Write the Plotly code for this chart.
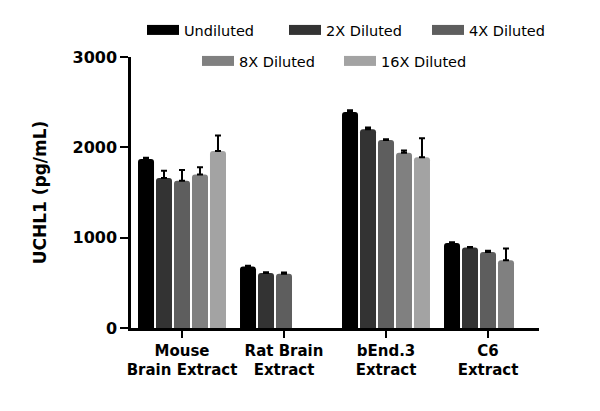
import plotly.graph_objects as go

categories = ["Mouse<br>Brain Extract", "Rat Brain<br>Extract", "bEnd.3<br>Extract", "C6<br>Extract"]
series_names = ["Undiluted", "2X Diluted", "4X Diluted", "8X Diluted", "16X Diluted"]
colors = ["#000000", "#333333", "#5e5e5e", "#808080", "#a3a3a3"]

undiluted = [1870, 680, 2390, 940]
undiluted_err = [15, 10, 20, 10]
diluted_2x = [1660, 610, 2200, 890]
diluted_2x_err = [80, 8, 20, 8]
diluted_4x = [1630, 600, 2080, 840]
diluted_4x_err = [120, 15, 10, 15]
diluted_8x = [1700, None, 1940, 750]
diluted_8x_err = [80, None, 25, 130]
diluted_16x = [1960, None, 1890, None]
diluted_16x_err = [170, None, 210, None]

values = [undiluted, diluted_2x, diluted_4x, diluted_8x, diluted_16x]
errors = [undiluted_err, diluted_2x_err, diluted_4x_err, diluted_8x_err, diluted_16x_err]

# legend symbol left edges (px) and row centres (px)
legend_x = [147, 289, 432, 202, 344]
legend_y = [30, 30, 30, 61, 61]

fig = go.Figure()
for name, col, v, e in zip(series_names, colors, values, errors):
    fig.add_trace(go.Bar(
        x=categories, y=v, name=name, showlegend=False,
        marker=dict(color=col, line=dict(width=0), cornerradius=3),
        error_y=dict(type="data", array=e, arrayminus=[0] * len(e), symmetric=False,
                     color="black", thickness=2, width=3),
    ))

legend_names = ["legend", "legend2", "legend3", "legend4", "legend5"]
for name, col, lg in zip(series_names, colors, legend_names):
    fig.add_trace(go.Scatter(
        x=[None], y=[None], mode="lines", name=name,
        line=dict(color=col, width=11),
        legend=lg,
    ))

legend_layouts = {}
for lg, lx, ly in zip(legend_names, legend_x, legend_y):
    legend_layouts[lg] = dict(
        orientation="h", font=dict(family="DejaVu Sans", size=14.5, color="black"),
        xref="container", yref="container", yanchor="middle", xanchor="left",
        x=(lx - 5) / 600, y=1 - ly / 411, bgcolor="rgba(0,0,0,0)", itemwidth=32,
    )

fig.update_layout(
    width=600, height=411,
    margin=dict(l=131, r=61, t=57, b=83, autoexpand=False),
    paper_bgcolor="white", plot_bgcolor="white",
    barmode="group", bargap=0.118, bargroupgap=0.11,
    font=dict(family="DejaVu Sans", color="black"),
    **legend_layouts,
    xaxis=dict(range=[-0.5, 3.5], showline=True, linecolor="black", linewidth=2.5,
               ticks="outside", ticklen=7, tickwidth=2, tickcolor="black",
               tickfont=dict(family="DejaVu Sans", size=15, color="black", weight="bold"),
               showgrid=False, zeroline=False, fixedrange=True),
    yaxis=dict(range=[0, 3000], tickvals=[0, 1000, 2000, 3000],
               showline=True, linecolor="black", linewidth=2.5,
               ticks="outside", ticklen=8, tickwidth=2, tickcolor="black",
               tickfont=dict(family="DejaVu Sans", size=16, color="black", weight="bold"),
               title=dict(text="UCHL1 (pg/mL)", standoff=22,
                          font=dict(family="DejaVu Sans", size=17, color="black", weight="bold")),
               showgrid=False, zeroline=False, fixedrange=True),
)

fig.write_html("out.html")
